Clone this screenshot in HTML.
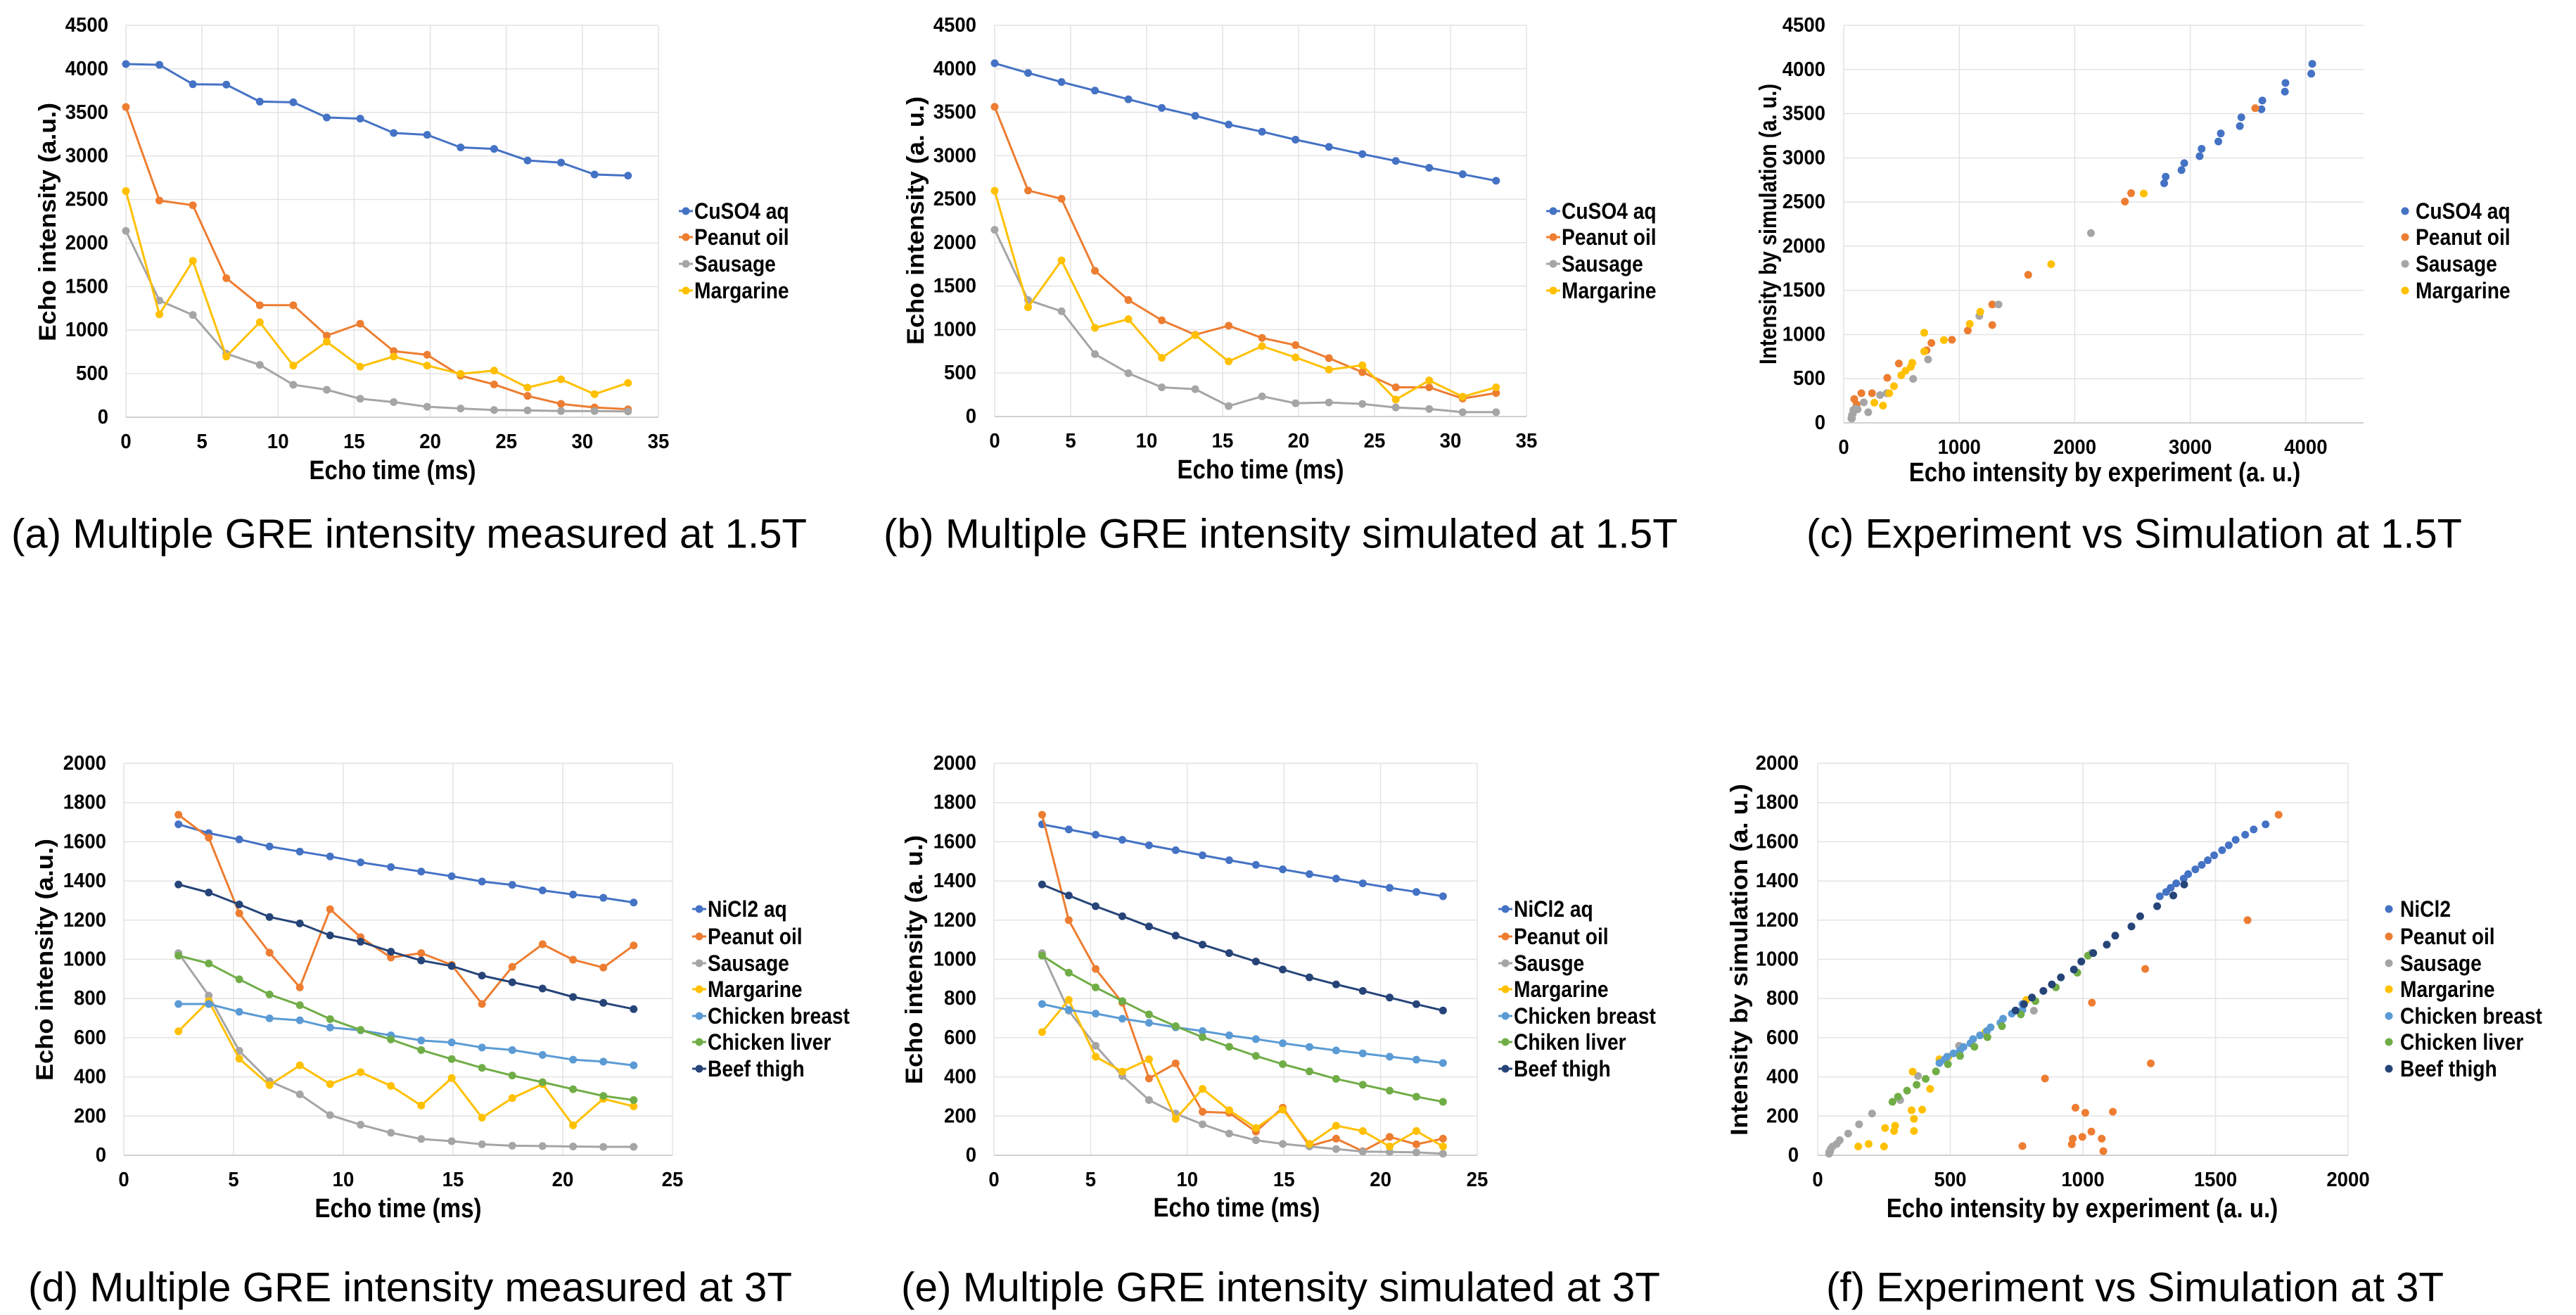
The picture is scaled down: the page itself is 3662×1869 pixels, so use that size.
<!DOCTYPE html>
<html><head><meta charset="utf-8">
<style>
html,body{margin:0;padding:0;background:#fff;}
svg{display:block;}
text{font-family:"Liberation Sans",sans-serif;fill:#000;}
</style></head>
<body>
<svg id="fig" width="3662" height="1869" viewBox="0 0 3662 1869" xmlns="http://www.w3.org/2000/svg"></svg>
<script>
// ===== Data: 1.5T =====
const t15 = [0, 2.2, 4.4, 6.6, 8.8, 11, 13.2, 15.4, 17.6, 19.8, 22, 24.2, 26.4, 28.6, 30.8, 33];
const measCuSO4 = [4056,4047,3824,3819,3624,3616,3442,3429,3264,3243,3098,3081,2948,2924,2787,2774];
const measPeanut15 = [3562,2488,2434,1597,1286,1286,937,1074,759,717,477,377,245,153,112,91];
const measSausage15 = [2140,1340,1174,730,601,373,315,212,174,120,100,83,79,71,71,66];
const measMargarine15 = [2597,1182,1796,697,1091,593,867,581,697,593,498,535,340,435,265,394];
const simCuSO4 = [4064,3952,3848,3749,3649,3550,3459,3359,3276,3185,3102,3019,2940,2861,2787,2712];
const simPeanut15 = [3562,2600,2505,1676,1340,1107,941,1045,904,821,672,510,336,336,207,270];
const simSausage15 = [2148,1340,1211,718,498,336,315,120,232,153,162,145,104,87,50,50];
const simMargarine15 = [2596,1257,1796,1020,1120,676,937,634,809,680,539,589,195,415,228,336];
// ===== Data: 3T =====
const t3 = [2.49,3.87,5.26,6.64,8.02,9.40,10.79,12.17,13.55,14.94,16.32,17.70,19.08,20.47,21.85,23.23];
const measNiCl2 = [1689,1644,1612,1576,1550,1525,1495,1471,1448,1424,1397,1380,1352,1331,1314,1290];
const measPeanut3 = [1738,1621,1235,1034,857,1256,1113,1009,1032,972,772,962,1077,998,958,1071];
const measSausage3 = [1032,815,533,378,311,205,156,115,83,72,56,49,47,45,43,43];
const measMargarine3 = [633,787,493,358,459,363,424,354,254,394,192,292,363,153,288,250];
const measBreast = [772,772,732,699,689,652,638,612,586,576,550,537,512,488,478,459];
const measLiver = [1019,979,898,821,766,695,640,591,537,491,446,407,373,337,303,282];
const measBeef = [1382,1341,1280,1216,1183,1122,1090,1039,994,966,917,883,851,808,778,746];
const simNiCl2 = [1689,1663,1636,1610,1582,1557,1531,1506,1482,1459,1435,1412,1388,1365,1344,1322];
const simPeanut3 = [1738,1200,951,779,392,469,222,217,121,243,47,85,21,94,56,85];
const simSausage3 = [1032,738,559,405,282,213,158,111,77,58,45,32,19,17,15,8];
const simMargarine3 = [629,793,503,427,490,186,339,230,139,233,58,151,124,45,124,45];
const simBreast = [772,742,723,697,676,653,634,612,593,572,553,535,520,503,488,471];
const simLiver = [1019,932,857,787,719,659,603,554,507,465,428,390,360,330,299,273];
const simBeef = [1382,1326,1271,1220,1168,1121,1075,1032,989,948,908,872,839,805,771,739];

const C = {blue:'#4472C4',orange:'#ED7D31',gray:'#A5A5A5',yellow:'#FFC000',lblue:'#5B9BD5',green:'#70AD47',navy:'#264478'};
const NS = 'http://www.w3.org/2000/svg';
const svg = document.getElementById('fig');
const narrowTexts = [];

function mk(tag, attrs, parent){
  const e = document.createElementNS(NS, tag);
  for (const k in attrs) e.setAttribute(k, attrs[k]);
  (parent||svg).appendChild(e);
  return e;
}

function drawPanel(p){
  const g = mk('g', {});
  
  
  const sx = v => p.L + (v - p.xMin) / (p.xMax - p.xMin) * (p.R - p.L);
  const sy = v => p.B - v / p.yMax * (p.B - p.T);
  for (let v = p.xStep; v <= p.xMax + 1e-9; v += p.xStep){
    const l = mk('line', {x1:sx(v), x2:sx(v), y1:p.T, y2:p.B, stroke:'#e3e3e3', 'stroke-width':1.5}, g);
    
    
  }
  for (let v = p.yStep; v <= p.yMax + 1e-9; v += p.yStep){
    const l = mk('line', {x1:p.L, x2:p.R, y1:sy(v), y2:sy(v), stroke:'#e3e3e3', 'stroke-width':1.5}, g);
    
    
  }
  const la = mk('line', {x1:p.L, x2:p.L, y1:p.T, y2:p.B, stroke:'#e3e3e3', 'stroke-width':1.5}, g);
  
  
  const xa = mk('line', {x1:p.L, x2:p.R, y1:p.B, y2:p.B, stroke:'#d0d0d0', 'stroke-width':2}, g);
  
  
  for (let v = 0; v <= p.yMax + 1e-9; v += p.yStep){
    const t = mk('text', {x:p.tickRight, y:sy(v), 'text-anchor':'end', 'dominant-baseline':'central', 'font-size':29, 'font-weight':'bold'}, g);
    t.textContent = String(v);
    
    
    narrowTexts.push([t, 0.95]);
  }
  for (let v = p.xMin; v <= p.xMax + 1e-9; v += p.xStep){
    const t = mk('text', {x:sx(v), y:p.xTickY, 'text-anchor':'middle', 'dominant-baseline':'central', 'font-size':29, 'font-weight':'bold'}, g);
    t.textContent = String(v);
    
    
    narrowTexts.push([t, 0.95]);
  }
  const xt = mk('text', {x:p.xTitle[0], y:p.xTitle[1], 'text-anchor':'middle', 'dominant-baseline':'central', 'font-size':38, 'font-weight':'bold'}, g);
  xt.textContent = p.xTitle[2];
  
  
  narrowTexts.push([xt, 0.87]);
  const yc = (p.yTitle.y1 + p.yTitle.y2) / 2;
  const yt = mk('text', {x:p.yTitle.x, y:yc, transform:`rotate(-90 ${p.yTitle.x} ${yc})`, 'text-anchor':'middle', 'dominant-baseline':'central', 'font-size':34, 'font-weight':'bold', textLength:p.yTitle.y2 - p.yTitle.y1, lengthAdjust:'spacingAndGlyphs'}, g);
  yt.textContent = p.yTitle.text;
  
  
  p.series.forEach((s, i) => {
    const sg = mk('g', {}, g);
    
    
    const xs = s.x, ys = s.y;
    if (!p.scatter){
      const d = xs.map((xv, k) => (k ? 'L' : 'M') + sx(xv).toFixed(1) + ' ' + sy(ys[k]).toFixed(1)).join(' ');
      const path = mk('path', {d:d, fill:'none', stroke:s.color, 'stroke-width':3, 'stroke-linejoin':'round'}, sg);
      
      
    }
    xs.forEach((xv, k) => {
      const c = mk('circle', {cx:sx(xv), cy:sy(ys[k]), r:5.5, fill:s.color}, sg);
      
      
    });
    const ly = p.legend.ys[i];
    const lg = mk('g', {}, g);
    
    
    if (!p.scatter){
      mk('line', {x1:p.legend.mx - 10, x2:p.legend.mx + 10, y1:ly, y2:ly, stroke:s.color, 'stroke-width':3}, lg);
    }
    mk('circle', {cx:p.legend.mx, cy:ly, r:5.5, fill:s.color}, lg);
    const lt = mk('text', {x:p.legend.tx, y:ly, 'dominant-baseline':'central', 'font-size':32, 'font-weight':'bold'}, lg);
    lt.textContent = s.label;
    narrowTexts.push([lt, 0.88]);
  });
  const cap = mk('text', {x:(p.caption.x1 + p.caption.x2) / 2, y:p.caption.y, 'text-anchor':'middle', 'dominant-baseline':'central', 'font-size':58, textLength:p.caption.x2 - p.caption.x1, lengthAdjust:'spacingAndGlyphs'}, g);
  cap.textContent = p.caption.text;
  
  
}

const legTop = [300, 337, 375, 413];
const legBot = [1292, 1331, 1369, 1406, 1444, 1481, 1519];

drawPanel({name:'chart-a-measured-1-5t', L:179, R:936, T:36, B:593, xMin:0, xMax:35, xStep:5, yMax:4500, yStep:500,
  tickRight:154, xTickY:628, xTitle:[558, 669, 'Echo time (ms)'], yTitle:{x:68, y1:146, y2:485, text:'Echo intensity (a.u.)'},
  legend:{mx:975, tx:987, ys:legTop}, caption:{x1:16, x2:1147, y:759, text:'(a) Multiple GRE intensity measured at 1.5T'},
  series:[{label:'CuSO4 aq', color:C.blue, x:t15, y:measCuSO4},{label:'Peanut oil', color:C.orange, x:t15, y:measPeanut15},
          {label:'Sausage', color:C.gray, x:t15, y:measSausage15},{label:'Margarine', color:C.yellow, x:t15, y:measMargarine15}]});

drawPanel({name:'chart-b-simulated-1-5t', L:1414, R:2170, T:36, B:592, xMin:0, xMax:35, xStep:5, yMax:4500, yStep:500,
  tickRight:1388, xTickY:627, xTitle:[1792, 668, 'Echo time (ms)'], yTitle:{x:1302, y1:137, y2:490, text:'Echo intensity (a. u.)'},
  legend:{mx:2208, tx:2220, ys:legTop}, caption:{x1:1256, x2:2385, y:759, text:'(b) Multiple GRE intensity simulated at 1.5T'},
  series:[{label:'CuSO4 aq', color:C.blue, x:t15, y:simCuSO4},{label:'Peanut oil', color:C.orange, x:t15, y:simPeanut15},
          {label:'Sausage', color:C.gray, x:t15, y:simSausage15},{label:'Margarine', color:C.yellow, x:t15, y:simMargarine15}]});

drawPanel({name:'chart-c-experiment-vs-simulation-1-5t', scatter:true, L:2621, R:3360, T:36, B:601, xMin:0, xMax:4500, xStep:1000, yMax:4500, yStep:500,
  tickRight:2595, xTickY:636, xTitle:[2992, 672, 'Echo intensity by experiment (a. u.)'], yTitle:{x:2514, y1:119, y2:518, text:'Intensity by simulation (a. u.)'},
  legend:{mx:3419, tx:3434, ys:legTop}, caption:{x1:2568, x2:3500, y:759, text:'(c) Experiment vs Simulation at 1.5T'},
  series:[{label:'CuSO4 aq', color:C.blue, x:measCuSO4, y:simCuSO4},{label:'Peanut oil', color:C.orange, x:measPeanut15, y:simPeanut15},
          {label:'Sausage', color:C.gray, x:measSausage15, y:simSausage15},{label:'Margarine', color:C.yellow, x:measMargarine15, y:simMargarine15}]});

drawPanel({name:'chart-d-measured-3t', L:176, R:956, T:1085, B:1642, xMin:0, xMax:25, xStep:5, yMax:2000, yStep:200,
  tickRight:151, xTickY:1677, xTitle:[566, 1718, 'Echo time (ms)'], yTitle:{x:64, y1:1192, y2:1536, text:'Echo intensity (a.u.)'},
  legend:{mx:994, tx:1006, ys:legBot}, caption:{x1:40, x2:1126, y:1830, text:'(d) Multiple GRE intensity measured at 3T'},
  series:[{label:'NiCl2 aq', color:C.blue, x:t3, y:measNiCl2},{label:'Peanut oil', color:C.orange, x:t3, y:measPeanut3},
          {label:'Sausage', color:C.gray, x:t3, y:measSausage3},{label:'Margarine', color:C.yellow, x:t3, y:measMargarine3},
          {label:'Chicken breast', color:C.lblue, x:t3, y:measBreast},{label:'Chicken liver', color:C.green, x:t3, y:measLiver},
          {label:'Beef thigh', color:C.navy, x:t3, y:measBeef}]});

drawPanel({name:'chart-e-simulated-3t', L:1413, R:2100, T:1085, B:1642, xMin:0, xMax:25, xStep:5, yMax:2000, yStep:200,
  tickRight:1388, xTickY:1677, xTitle:[1758, 1717, 'Echo time (ms)'], yTitle:{x:1300, y1:1187, y2:1541, text:'Echo intensity (a. u.)'},
  legend:{mx:2140, tx:2152, ys:legBot}, caption:{x1:1281, x2:2360, y:1830, text:'(e) Multiple GRE intensity simulated at 3T'},
  series:[{label:'NiCl2 aq', color:C.blue, x:t3, y:simNiCl2},{label:'Peanut oil', color:C.orange, x:t3, y:simPeanut3},
          {label:'Sausge', color:C.gray, x:t3, y:simSausage3},{label:'Margarine', color:C.yellow, x:t3, y:simMargarine3},
          {label:'Chicken breast', color:C.lblue, x:t3, y:simBreast},{label:'Chiken liver', color:C.green, x:t3, y:simLiver},
          {label:'Beef thigh', color:C.navy, x:t3, y:simBeef}]});

drawPanel({name:'chart-f-experiment-vs-simulation-3t', scatter:true, L:2584, R:3338, T:1085, B:1642, xMin:0, xMax:2000, xStep:500, yMax:2000, yStep:200,
  tickRight:2557, xTickY:1677, xTitle:[2960, 1718, 'Echo intensity by experiment (a. u.)'], yTitle:{x:2473, y1:1114, y2:1614, text:'Intensity by simulation (a. u.)'},
  legend:{mx:3396, tx:3412, ys:legBot}, caption:{x1:2596, x2:3474, y:1830, text:'(f) Experiment vs Simulation at 3T'},
  series:[{label:'NiCl2', color:C.blue, x:measNiCl2, y:simNiCl2},{label:'Peanut oil', color:C.orange, x:measPeanut3, y:simPeanut3},
          {label:'Sausage', color:C.gray, x:measSausage3, y:simSausage3},{label:'Margarine', color:C.yellow, x:measMargarine3, y:simMargarine3},
          {label:'Chicken breast', color:C.lblue, x:measBreast, y:simBreast},{label:'Chicken liver', color:C.green, x:measLiver, y:simLiver},
          {label:'Beef thigh', color:C.navy, x:measBeef, y:simBeef}]});

narrowTexts.forEach(([t, f]) => {
  const w = t.getComputedTextLength();
  if (w > 0){
    t.setAttribute('textLength', (w * f).toFixed(1));
    t.setAttribute('lengthAdjust', 'spacingAndGlyphs');
  }
});
</script>
</body></html>
